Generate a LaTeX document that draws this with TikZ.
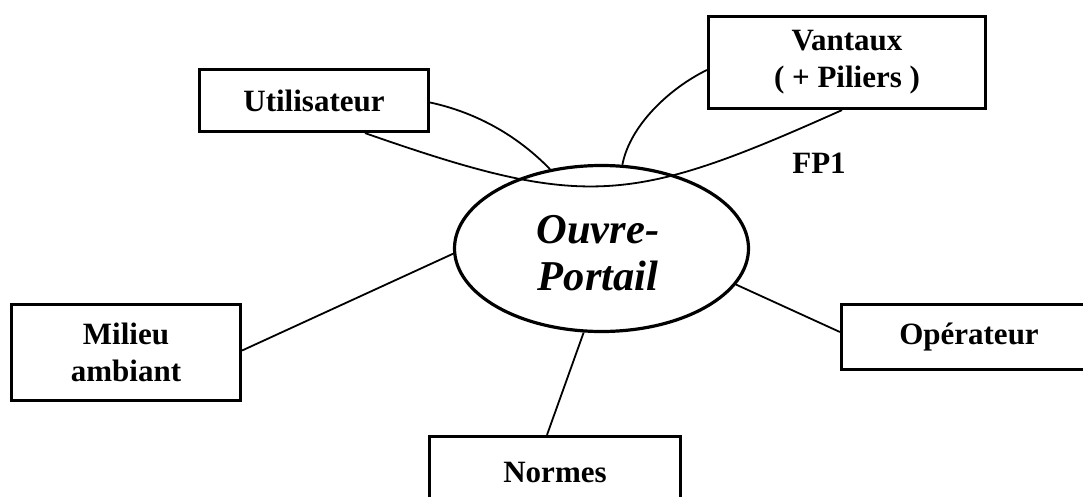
\documentclass[tikz,border=0pt]{standalone}
\usepackage{fontspec}
\setmainfont{Liberation Serif}
\usetikzlibrary{shapes.geometric}
\tikzset{
  box/.style={draw, line width=3.2pt, inner sep=0pt, align=center,
    font=\fontsize{31}{37}\selectfont\bfseries},
  ell/.style={draw, ellipse, line width=3.2pt, inner sep=0pt,
    minimum width=294pt, minimum height=166pt},
  elltext/.style={inner sep=0pt, align=center,
    font=\fontsize{42.5}{47}\selectfont\bfseries\itshape},
  link/.style={line width=1.8pt},
  lab/.style={inner sep=0pt, font=\fontsize{31}{37}\selectfont\bfseries}
}
\begin{document}
\begin{tikzpicture}[x=1pt,y=-1pt]
\path[use as bounding box, clip] (0,0) rectangle (1083,497);
\node[ell] (E) at (601.5,248.5) {};
\node[elltext] (Et) at (598,253) {Ouvre-\\Portail};
\node[box, minimum width=229pt, minimum height=62pt] (U) at (314,100.5) {Utilisateur};
\node[box, minimum width=277pt, minimum height=92pt] (V) at (847,62.5) {Vantaux\\( + Piliers )};
\node[box, minimum width=229pt, minimum height=96pt] (M) at (126,352.5) {Milieu\\ambiant};
\node[box, minimum width=255pt, minimum height=65pt] (O) at (969,337) {Opérateur};
\node[box, minimum width=251pt, minimum height=71pt] (N) at (555,472) {Normes};
\node[lab] (FP) at (819,163) {FP1};
% connectors
\draw[link] ([yshift=-2pt]U.east) .. controls (465,110) and (510,128) .. (E.123);
\draw[link] ([xshift=51pt]U.south) .. controls (585,210) and (630,205) .. ([xshift=-5pt]V.south);
\draw[link] ([yshift=-7.5pt]V.west) .. controls (670,88) and (630,125) .. (E.76);
\draw[link] ([yshift=2pt]M.east) -- (E.182);
\draw[link] ([yshift=5pt]O.west) -- (E.-15);
\draw[link] ([xshift=-8pt]N.north) -- (E.-102);
\end{tikzpicture}
\end{document}
